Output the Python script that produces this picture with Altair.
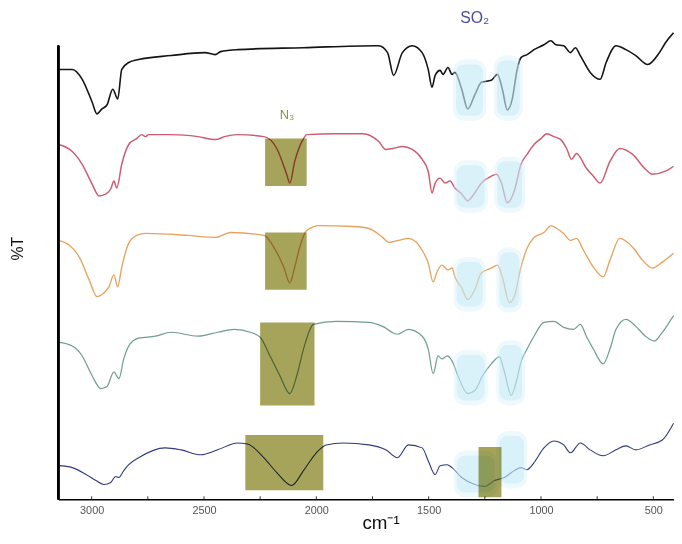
import altair as alt
import pandas as pd

# ---- data (wavenumber in cm-1, offset %T in arbitrary units) ----
BLACK_WN = [3148, 3086, 3042, 2998, 2976, 2954, 2932, 2906, 2884, 2866, 2835, 2791, 2646, 2496, 2450, 2426, 2351, 2057, 1735, 1722,
            1683, 1656, 1617, 1573, 1529, 1502, 1485, 1471, 1449, 1436, 1414, 1396, 1383, 1353, 1326, 1295, 1265, 1221, 1194, 1172,
            1150, 1128, 1106, 1089, 1062, 1031, 987, 956, 934, 899, 869, 847, 825, 781, 737, 710, 666, 622, 578, 525, 473, 446, 410]
BLACK_T = [437, 437, 427, 404, 392, 397, 401, 417, 407, 437, 444, 447, 451, 454, 452, 455, 457, 459, 461, 461,
           454, 431, 454, 461, 454, 437, 419, 431, 436, 432, 439, 432, 434, 417, 397, 411, 424, 426, 432, 417,
           396, 407, 437, 449, 452, 457, 462, 466, 462, 461, 454, 459, 451, 434, 427, 444, 461, 457, 451, 442, 454, 464, 474]

RED_WN = [3148, 3086, 3042, 2998, 2967, 2936, 2915, 2901, 2888, 2866, 2835, 2800, 2778, 2760, 2747, 2646, 2527, 2448, 2409, 2351,
          2233, 2176, 2132, 2118, 2096, 2057, 2043, 1911, 1793, 1722, 1691, 1660, 1617, 1573, 1529, 1502, 1485, 1471, 1449, 1427,
          1405, 1383, 1353, 1326, 1295, 1265, 1221, 1198, 1176, 1150, 1119, 1089, 1062, 1031, 1001, 974, 943, 912, 886, 864,
          842, 798, 767, 737, 693, 649, 592, 535, 504, 446, 410]
RED_T = [361, 354, 341, 321, 309, 311, 316, 324, 317, 341, 361, 367, 371, 369, 371, 371, 369, 366, 369, 371,
         369, 357, 331, 322, 344, 367, 371, 372, 372, 364, 356, 357, 359, 356, 346, 334, 312, 322, 327, 322,
         324, 317, 311, 304, 312, 322, 329, 331, 322, 302, 314, 341, 351, 361, 367, 372, 369, 366, 357, 346,
         352, 337, 329, 322, 344, 357, 351, 336, 331, 334, 339]

ORANGE_WN = [3148, 3099, 3055, 3011, 2976, 2945, 2923, 2901, 2884, 2866, 2835, 2800, 2760, 2571, 2448, 2382, 2233, 2189, 2145, 2118,
             2096, 2074, 2043, 1986, 1836, 1766, 1705, 1678, 1634, 1590, 1529, 1502, 1480, 1463, 1441, 1414, 1396, 1383, 1353, 1326,
             1295, 1265, 1221, 1194, 1172, 1141, 1119, 1089, 1062, 1031, 987, 956, 930, 899, 869, 842, 811, 767, 723, 693,
             649, 592, 548, 504, 460, 410]
ORANGE_T = [264, 259, 247, 224, 207, 211, 217, 229, 217, 237, 261, 269, 271, 269, 267, 272, 269, 257, 237, 221,
            237, 257, 274, 279, 278, 276, 267, 262, 264, 266, 254, 241, 222, 232, 239, 234, 236, 227, 216, 204,
            214, 231, 236, 239, 227, 201, 207, 237, 256, 267, 272, 279, 276, 271, 264, 266, 254, 237, 227, 244,
            266, 257, 244, 236, 242, 251]

TEAL_WN = [3148, 3086, 3042, 2998, 2959, 2932, 2901, 2879, 2857, 2835, 2791, 2717, 2646, 2527, 2439, 2365, 2294, 2250, 2206, 2162,
           2118, 2087, 2057, 2013, 1911, 1766, 1705, 1639, 1590, 1529, 1502, 1480, 1458, 1441, 1418, 1396, 1370, 1326, 1295, 1260,
           1221, 1185, 1163, 1132, 1110, 1089, 1062, 1031, 987, 943, 899, 855, 825, 798, 767, 723, 693, 666, 622, 578,
           535, 495, 460, 410]
TEAL_T = [161, 157, 147, 127, 114, 116, 131, 124, 144, 157, 165, 167, 171, 167, 171, 174, 171, 166, 147, 127,
          109, 127, 154, 179, 182, 181, 177, 169, 174, 167, 154, 129, 147, 144, 147, 142, 127, 109, 112, 127,
          139, 146, 131, 107, 121, 141, 154, 167, 181, 182, 176, 174, 179, 167, 154, 139, 154, 174, 184, 177,
          167, 162, 171, 188]

NAVY_WN = [3148, 3086, 3025, 2981, 2945, 2915, 2893, 2879, 2857, 2835, 2791, 2673, 2602, 2514, 2439, 2351, 2307, 2233, 2176, 2110,
           2057, 2000, 1956, 1881, 1766, 1691, 1639, 1590, 1529, 1502, 1471, 1449, 1418, 1396, 1353, 1295, 1251, 1207, 1163, 1119,
           1089, 1062, 1031, 987, 943, 899, 869, 825, 781, 723, 666, 622, 578, 517, 460, 410]
NAVY_T = [36, 34, 27, 21, 17, 19, 25, 24, 31, 37, 44, 54, 52, 47, 52, 59, 58, 44, 29, 16,
          31, 49, 57, 59, 57, 52, 44, 57, 54, 41, 27, 36, 37, 34, 24, 17, 15, 21, 24, 31,
          34, 32, 39, 54, 61, 57, 49, 59, 52, 46, 52, 56, 52, 57, 62, 79]

SERIES = ["1", "2", "3", "4", "5"]
SERIES_COLORS = ["#141414", "#cc5c70", "#e8a25c", "#6f9c93", "#2f3a7c"]
SERIES_WIDTHS = [1.6, 1.1, 1.1, 1.1, 1.2]

# N3 highlight boxes: wn from, wn to, T low, T high
BOX_WN1 = [2228, 2228, 2250, 2316, 1278]
BOX_WN2 = [2043, 2043, 2008, 1969, 1176]
BOX_T1 = [319, 214, 97, 11, 4]
BOX_T2 = [367, 272, 181, 67, 55]

# SO2 glow regions
GLOW_WN1 = [1378, 1196, 1375, 1194, 1375, 1185, 1375, 1185, 1375, 1185]
GLOW_WN2 = [1258, 1095, 1251, 1084, 1260, 1097, 1251, 1084, 1207, 1075]
GLOW_T1 = [390, 390, 297, 297, 197, 196, 102, 102, 9, 18]
GLOW_T2 = [442, 446, 340, 344, 242, 252, 148, 158, 46, 66]

MAJOR_TICKS = [3000, 2500, 2000, 1500, 1000, 500]
MINOR_TICKS = [2750, 2250, 1750, 1250, 750]

LABEL_SO2 = ("SO₂", 1295, 489)
LABEL_N3 = ("N₃", 2131, 391)

# ---- tables ----
rows = []
for name, wns, ts in zip(SERIES, [BLACK_WN, RED_WN, ORANGE_WN, TEAL_WN, NAVY_WN],
                         [BLACK_T, RED_T, ORANGE_T, TEAL_T, NAVY_T]):
    assert len(wns) == len(ts), name
    for w, t in zip(wns, ts):
        rows.append({"series": name, "wn": w, "T": t})
lines_df = pd.DataFrame(rows)

boxes_df = pd.DataFrame({"x1": BOX_WN1, "x2": BOX_WN2, "y1": BOX_T1, "y2": BOX_T2})
glow_df = pd.DataFrame({"x1": GLOW_WN1, "x2": GLOW_WN2, "y1": GLOW_T1, "y2": GLOW_T2})
ticks_df = pd.DataFrame({"wn": MAJOR_TICKS + MINOR_TICKS})
so2_df = pd.DataFrame([{"label": LABEL_SO2[0], "wn": LABEL_SO2[1], "T": LABEL_SO2[2]}])
n3_df = pd.DataFrame([{"label": LABEL_N3[0], "wn": LABEL_N3[1], "T": LABEL_N3[2]}])

xscale = alt.Scale(domain=[408, 3148], reverse=True, nice=False, zero=False)
yscale = alt.Scale(domain=[2, 496], nice=False, zero=False)

xaxis = alt.Axis(values=MAJOR_TICKS, format="d", labelFontSize=11, labelColor="#555555",
                 labelFont="Liberation Sans", ticks=False, grid=False, domainColor="#000000",
                 domainWidth=1.5, labelPadding=5, title="cm⁻¹", titleFontSize=19,
                 titleFontWeight="normal", titleFont="Liberation Sans", titleColor="#111111",
                 titleX=326, titleY=30, titleBaseline="alphabetic", labelFlush=False)
yaxis = alt.Axis(domain=False, ticks=False, labels=False, grid=False, title="%T",
                 titleX=-41, titleY=240, titleAngle=270, titleAlign="center",
                 titleBaseline="middle", titleFontSize=16, titleFontWeight="normal",
                 titleFont="Liberation Sans", titleColor="#111111")

lines = alt.Chart(lines_df).mark_line(interpolate="monotone").encode(
    x=alt.X("wn:Q", scale=xscale, axis=xaxis),
    y=alt.Y("T:Q", scale=yscale, axis=yaxis),
    color=alt.Color("series:N", scale=alt.Scale(domain=SERIES, range=SERIES_COLORS), legend=None),
    strokeWidth=alt.StrokeWidth("series:N", scale=alt.Scale(domain=SERIES, range=SERIES_WIDTHS), legend=None),
    detail="series:N",
)

# soft halo around each SO2 region, then a lighter core
glow_outer = alt.Chart(glow_df).transform_calculate(
    ox1="datum.x1 + 14", ox2="datum.x2 - 14", oy1="datum.y1 - 5", oy2="datum.y2 + 5"
).mark_rect(color="#cdeef8", opacity=0.35, cornerRadius=12).encode(
    x="ox1:Q", x2="ox2:Q", y="oy1:Q", y2="oy2:Q")

glows = alt.Chart(glow_df).mark_rect(color="#bfe7f4", opacity=0.45, cornerRadius=8).encode(
    x="x1:Q", x2="x2:Q", y="y1:Q", y2="y2:Q")

boxes = alt.Chart(boxes_df).mark_rect(color="#a6a45a", blend="multiply").encode(
    x="x1:Q", x2="x2:Q", y="y1:Q", y2="y2:Q")

left_axis = alt.Chart(ticks_df).mark_rule(color="#000000", strokeWidth=1.6).encode(
    x=alt.value(0), y=alt.datum(2), y2=alt.datum(461))

tick_marks = alt.Chart(ticks_df).mark_rule(color="#333333", strokeWidth=1).encode(
    x="wn:Q", y=alt.datum(2), y2=alt.datum(5))

so2_text = alt.Chart(so2_df).mark_text(fontSize=16, color="#4a4e98", font="Liberation Sans").encode(
    x="wn:Q", y="T:Q", text="label:N")
n3_text = alt.Chart(n3_df).mark_text(fontSize=13, color="#8a9440", font="Liberation Sans").encode(
    x="wn:Q", y="T:Q", text="label:N")

chart = alt.layer(lines, glow_outer, glows, boxes, left_axis, tick_marks, so2_text, n3_text).properties(
    width=623, height=494,
    autosize=alt.AutoSizeParams(type="none"),
    padding={"left": 51, "top": 0, "right": 0, "bottom": 32},
    background="#ffffff",
).configure_view(stroke=None)

chart.save("out.html", embed_options={"renderer": "svg", "actions": False})
